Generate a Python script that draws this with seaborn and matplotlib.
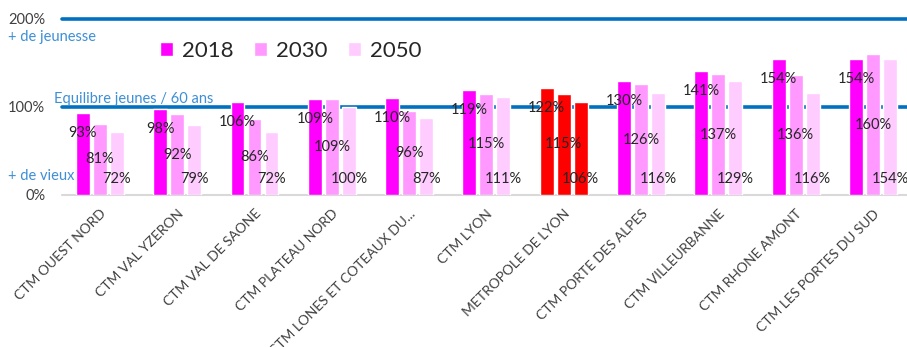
import matplotlib
matplotlib.use("Agg")
import matplotlib.pyplot as plt
import seaborn as sns
import pandas as pd
from matplotlib.transforms import offset_copy

categories = ["CTM OUEST NORD", "CTM VAL YZERON", "CTM VAL DE SAONE", "CTM PLATEAU NORD",
              "CTM LONES ET COTEAUX DU...", "CTM LYON", "METROPOLE DE LYON",
              "CTM PORTE DES ALPES", "CTM VILLEURBANNE", "CTM RHONE AMONT",
              "CTM LES PORTES DU SUD"]
years = ["2018", "2030", "2050"]
v2018 = [93, 98, 106, 109, 110, 119, 122, 130, 141, 154, 154]
v2030 = [81, 92, 86, 109, 96, 115, 115, 126, 137, 136, 160]
v2050 = [72, 79, 72, 100, 87, 111, 106, 116, 129, 116, 154]
highlight = "METROPOLE DE LYON"
yticks = [0, 100, 200]
ytick_labels = ["0%", "100%", "200%"]

colors = {"2018": "#FF00FF", "2030": "#FF99FF", "2050": "#FFCCFF"}
blue = "#0070C0"
text_blue = "#3D8FD6"
gray_text = "#404040"

sns.set_theme(style="white")
plt.rcParams["font.family"] = ["Lato", "DejaVu Sans"]

df = pd.DataFrame({
    "cat": categories * 3,
    "year": [years[0]] * 11 + [years[1]] * 11 + [years[2]] * 11,
    "val": v2018 + v2030 + v2050,
})

fig = plt.figure(figsize=(9.07, 3.47), dpi=100)
ax = fig.add_axes([62 / 907, (347 - 195) / 347, 1 - 62 / 907, (195 - 19) / 347])

sns.barplot(data=df, x="cat", y="val", hue="year", palette=colors, width=0.66,
            gap=0.18, ax=ax, legend=True, saturation=1, zorder=3)

hi = categories.index(highlight)
for cont in ax.containers:
    cont.patches[hi].set_facecolor("#FF0000")

ax.set_xlim(-0.49, 10.44)
ax.set_ylim(0, 200)

# reference lines
ax.axhline(100, color=blue, lw=2.6, zorder=1, clip_on=False)
ax.axhline(200, color=blue, lw=2.6, zorder=1, clip_on=False)
ax.axhline(0, color="#D9D9D9", lw=1.5, zorder=2, clip_on=False)

for s in ax.spines.values():
    s.set_visible(False)

ax.set_yticks(yticks)
ax.set_yticklabels(ytick_labels, color=gray_text, fontsize=10.5)
ax.tick_params(axis="y", length=0, pad=12)
ax.set_xlabel("")
ax.set_ylabel("")

ax.set_xticks(range(len(categories)))
ax.set_xticklabels(categories, rotation=45, ha="right", rotation_mode="anchor",
                   fontsize=10, color=gray_text)
ax.tick_params(axis="x", length=0, pad=9)

# data labels
lab_kw = dict(fontsize=10.5, color="#262626", zorder=5)
vals = [v2018, v2030, v2050]
for k, cont in enumerate(ax.containers):
    for p, v in zip(cont.patches, vals[k]):
        xc = p.get_x() + p.get_width() / 2
        if k == 0:
            tr = offset_copy(ax.transData, fig=fig, x=0, y=-20, units="dots")
            ax.text(xc, v, f"{v}%", transform=tr, ha="center", va="center", **lab_kw)
        elif k == 1:
            ax.text(xc, v / 2, f"{v}%", ha="center", va="center", **lab_kw)
        else:
            tr = offset_copy(ax.transData, fig=fig, x=0, y=16, units="dots")
            ax.text(xc, 0, f"{v}%", transform=tr, ha="center", va="center", **lab_kw)

# annotations
fig.text(8 / 907, 1 - 37 / 347, "+ de jeunesse", color=text_blue, fontsize=10.5, va="center")
fig.text(8 / 907, 1 - 176 / 347, "+ de vieux", color=text_blue, fontsize=10.5, va="center")
fig.text(54 / 907, 1 - 99 / 347, "Equilibre jeunes / 60 ans", color=text_blue, fontsize=10.5, va="center")

# legend
leg = ax.legend(title=None, loc="center left", bbox_to_anchor=(140 / 907, 1 - 51 / 347),
                bbox_transform=fig.transFigure, ncol=3, frameon=False, fontsize=16,
                handlelength=0.6, handleheight=0.6, handletextpad=0.4, columnspacing=0.9)
for t in leg.get_texts():
    t.set_color("#262626")

fig.savefig("out.png", dpi=100)
